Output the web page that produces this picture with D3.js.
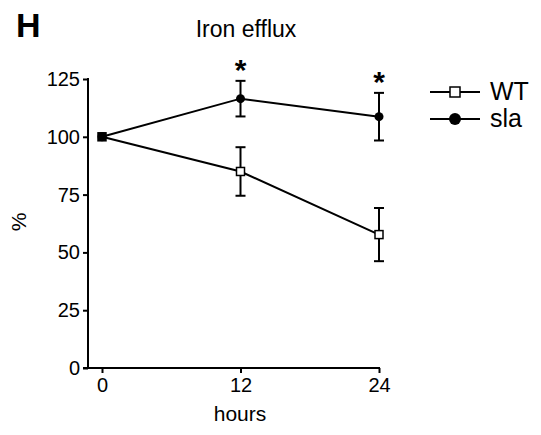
<!DOCTYPE html>
<html>
<head>
<meta charset="utf-8">
<script src="https://d3js.org/d3.v7.min.js"></script>
<style>
  body { margin: 0; background: #fff; }
  svg text { font-family: Arial, "Liberation Sans", Helvetica, sans-serif; fill: #000; }
</style>
</head>
<body>
<div id="chart"></div>
<script>
// data
var hours = [0, 12, 24];
var wtMean = [100, 85, 57.7];
var wtErr = [0, 10.5, 11.5];
var slaMean = [100, 116.5, 108.7];
var slaErr = [0, 7.7, 10.3];
var significant = [false, true, true];
var yTicks = [0, 25, 50, 75, 100, 125];
var xTicks = [0, 12, 24];

var W = 541, H = 435;
var svg = d3.select("#chart").append("svg")
  .attr("width", W).attr("height", H);

var x = d3.scaleLinear().domain([0, 24]).range([102, 379]);
var y = d3.scaleLinear().domain([0, 125]).range([368, 79]);

// y axis
var yAxis = svg.append("g")
  .attr("transform", "translate(88,0)")
  .call(d3.axisLeft(y).tickValues(yTicks).tickSize(5).tickPadding(3));
// x axis
var xAxis = svg.append("g")
  .attr("transform", "translate(0,368)")
  .call(d3.axisBottom(x).tickValues(xTicks).tickSize(5).tickPadding(5));

[yAxis, xAxis].forEach(function(a) {
  a.select(".domain").remove();
  a.selectAll("line").attr("stroke", "#000").attr("stroke-width", 2);
  a.selectAll("text").style("font-size", "20px");
});
// axis lines drawn by hand so they meet at the corner
svg.append("line").attr("x1", 88).attr("x2", 88).attr("y1", y(125) - 1).attr("y2", y(0) + 1)
  .attr("stroke", "#000").attr("stroke-width", 2);
svg.append("line").attr("x1", 83).attr("x2", x(24) + 1).attr("y1", y(0)).attr("y2", y(0))
  .attr("stroke", "#000").attr("stroke-width", 2);

// labels
svg.append("text").attr("x", 16).attr("y", 37).text("H")
  .style("font-size", "34px").style("font-weight", "bold");
svg.append("text").attr("x", 246).attr("y", 37).attr("text-anchor", "middle")
  .text("Iron efflux").style("font-size", "23px");
svg.append("text").attr("x", 240).attr("y", 421).attr("text-anchor", "middle")
  .text("hours").style("font-size", "21px");
svg.append("text").attr("transform", "translate(26,222) rotate(-90)").attr("text-anchor", "middle")
  .text("%").style("font-size", "21px");

function series(means, errs) {
  return hours.map(function(h, i) { return { h: h, m: means[i], e: errs[i], sig: significant[i] }; });
}
var wt = series(wtMean, wtErr);
var sla = series(slaMean, slaErr);

var line = d3.line().x(function(d) { return x(d.h); }).y(function(d) { return y(d.m); });

[wt, sla].forEach(function(s) {
  svg.append("path").attr("d", line(s)).attr("fill", "none")
    .attr("stroke", "#000").attr("stroke-width", 2);
  var eb = svg.append("g").selectAll("g").data(s.filter(function(d) { return d.e > 0; }))
    .enter().append("g");
  eb.append("line")
    .attr("x1", function(d) { return x(d.h); }).attr("x2", function(d) { return x(d.h); })
    .attr("y1", function(d) { return y(d.m + d.e); }).attr("y2", function(d) { return y(d.m - d.e); })
    .attr("stroke", "#000").attr("stroke-width", 2);
  [1, -1].forEach(function(sign) {
    eb.append("line")
      .attr("x1", function(d) { return x(d.h) - 5; }).attr("x2", function(d) { return x(d.h) + 5; })
      .attr("y1", function(d) { return y(d.m + sign * d.e); }).attr("y2", function(d) { return y(d.m + sign * d.e); })
      .attr("stroke", "#000").attr("stroke-width", 2);
  });
});

// markers
svg.selectAll(".wt").data(wt).enter().append("rect")
  .attr("x", function(d) { return x(d.h) - 4; }).attr("y", function(d) { return y(d.m) - 4; })
  .attr("width", 8).attr("height", 8)
  .attr("fill", function(d) { return d.h === 0 ? "#000" : "#fff"; })
  .attr("stroke", "#000").attr("stroke-width", 1.5);
svg.selectAll(".sla").data(sla).enter().append("circle")
  .attr("cx", function(d) { return x(d.h); }).attr("cy", function(d) { return y(d.m); })
  .attr("r", 4.5).attr("fill", "#000");

// significance stars
svg.selectAll(".star").data(sla.filter(function(d) { return d.sig; })).enter().append("text")
  .attr("x", function(d) { return x(d.h); }).attr("y", function(d) { return y(d.m + d.e) - 1; })
  .attr("text-anchor", "middle").text("*")
  .style("font-size", "30px").style("font-weight", "bold");

// legend
var legend = [{ name: "WT", shape: "square", y: 92 }, { name: "sla", shape: "circle", y: 119 }];
legend.forEach(function(l) {
  svg.append("line").attr("x1", 430).attr("x2", 480).attr("y1", l.y).attr("y2", l.y)
    .attr("stroke", "#000").attr("stroke-width", 2);
  if (l.shape === "square") {
    svg.append("rect").attr("x", 450).attr("y", l.y - 5).attr("width", 10).attr("height", 10)
      .attr("fill", "#fff").attr("stroke", "#000").attr("stroke-width", 1.5);
  } else {
    svg.append("circle").attr("cx", 455).attr("cy", l.y).attr("r", 6).attr("fill", "#000");
  }
  svg.append("text").attr("x", 490).attr("y", l.y + 8).text(l.name).style("font-size", "25px");
});
</script>
</body>
</html>
